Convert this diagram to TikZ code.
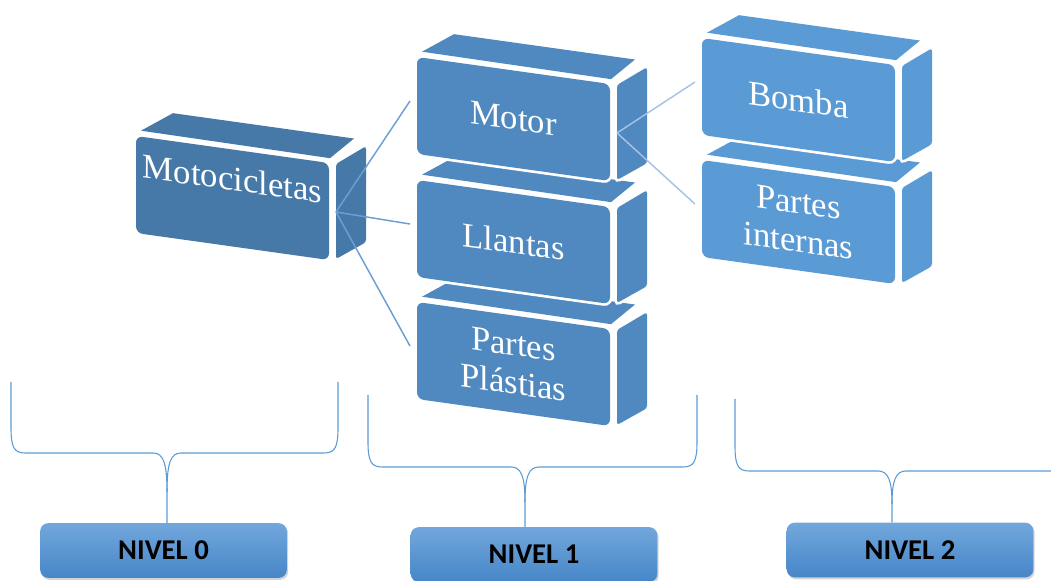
\documentclass[tikz,border=0pt]{standalone}
\usepackage{fontspec}
\setmainfont{Liberation Serif}
\newfontfamily\nivelfont{Carlito}
\usepackage{tikz}
\usetikzlibrary{shadows}
\definecolor{Moto}{RGB}{70,121,167}
\definecolor{NivelUno}{RGB}{79,137,191}
\definecolor{NivelDos}{RGB}{91,155,213}
\definecolor{Brace}{RGB}{91,155,213}
\definecolor{LinkUno}{RGB}{108,158,214}
\definecolor{LinkDos}{RGB}{165,194,231}
\definecolor{NivelTop}{RGB}{114,167,220}
\definecolor{NivelBot}{RGB}{70,134,200}

\tikzset{
  halo/.style={draw=white, fill=white, line width=4pt},
  bricktext/.style={text=white, align=center, inner sep=0pt, transform shape,
    font=\fontsize{26}{29}\selectfont},
  nivel/.style={rounded corners=6pt, minimum width=185pt, minimum height=41pt,
    top color=NivelTop, bottom color=NivelBot, inner sep=0pt,
    drop shadow={shadow xshift=1pt, shadow yshift=-1.5pt, opacity=0.35},
    font=\nivelfont\bfseries\fontsize{21.5}{21.5}\selectfont},
  brace/.style={draw=Brace, line width=0.8pt},
  link/.style={draw=#1, line width=1.1pt}
}

% front, top and side faces of one block
\newcommand{\brickfaces}[1]{%
  \path[#1, rounded corners=5pt] (0,0) rectangle (193,97);
  \path[#1] (5,-6) -- (37,-28) -- (218,-28) -- (194,-5) -- cycle;
  \path[#1, rounded corners=2pt] (200,0) -- (230,-22) -- (230,74) -- (200,95) -- cycle;}

% [text y]{name}{x}{y}{colour}{text}
\newcommand{\brick}[6][48]{%
  \begin{scope}[shift={(#3,#4)}, yslant=-0.14]
    \brickfaces{halo}
    \brickfaces{fill=#5}
    \node[bricktext] (#2) at (96.5,#1) {#6};
    \coordinate (#2-w) at (-7,45);
    \coordinate (#2-e) at (200,48);
  \end{scope}}

\begin{document}
\begin{tikzpicture}[x=0.75pt, y=-0.75pt]
  \useasboundingbox (0,0) rectangle (1051,581);

  % blocks, lower ones first
  \brick[29]{moto}{136}{136}{Moto}{Motocicletas}
  \brick{plasticas}{417}{302}{NivelUno}{Partes\\Plástias}
  \brick{llantas}{417}{180}{NivelUno}{Llantas}
  \brick{motor}{417}{57}{NivelUno}{Motor}
  \brick{internas}{702}{160}{NivelDos}{Partes\\internas}
  \brick{bomba}{702}{38}{NivelDos}{Bomba}

  % links
  \draw[link=LinkUno] (moto-e) -- (motor-w);
  \draw[link=LinkUno] (moto-e) -- (llantas-w);
  \draw[link=LinkUno] (moto-e) -- (plasticas-w);
  \draw[link=LinkDos] (motor-e) -- (bomba-w);
  \draw[link=LinkDos] (motor-e) -- (internas-w);

  % level boxes
  \node[nivel] (nivel0) at (163.5,550.5) {NIVEL 0};
  \node[nivel] (nivel1) at (534,554.5) {NIVEL 1};
  \node[nivel] (nivel2) at (910,550) {NIVEL 2};

  % braces
  \draw[brace] (11,382) -- (11,428) .. controls (11,447) and (14,453) .. (25,453) -- (153,453) .. controls (163,453) and (167,462) .. (167,492) -- (167,0 |- nivel0.north);
  \draw[brace] (338,382) -- (338,428) .. controls (338,447) and (335,453) .. (324,453) -- (181,453) .. controls (171,453) and (167,462) .. (167,492);
  \draw[brace] (368,395) -- (368,442) .. controls (368,461) and (371,467) .. (382,467) -- (511,467) .. controls (521,467) and (525,476) .. (525,502) -- (525,0 |- nivel1.north);
  \draw[brace] (697,395) -- (697,442) .. controls (697,461) and (694,467) .. (683,467) -- (539,467) .. controls (529,467) and (525,476) .. (525,502);
  \draw[brace] (735,399) -- (735,446) .. controls (735,465) and (738,471) .. (749,471) -- (878,471) .. controls (888,471) and (892,480) .. (892,504) -- (892,0 |- nivel2.north);
  \draw[brace] (1051,471) -- (906,471) .. controls (896,471) and (892,480) .. (892,504);
\end{tikzpicture}
\end{document}
